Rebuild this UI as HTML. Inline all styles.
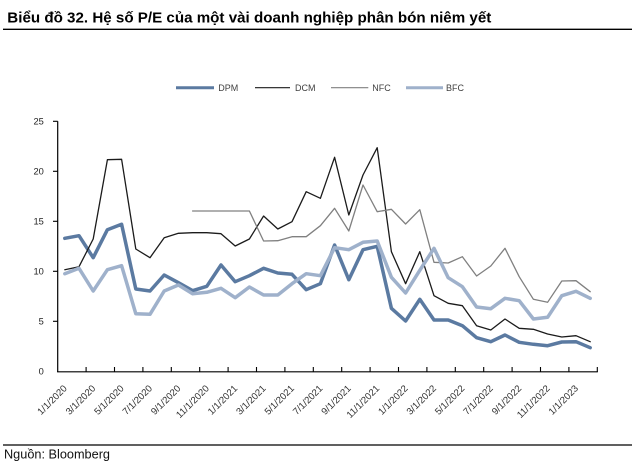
<!DOCTYPE html>
<html>
<head>
<meta charset="utf-8">
<style>
  html,body{margin:0;padding:0;background:#fff;}
  svg{display:block;}
  text{font-family:"Liberation Sans", Arial, sans-serif;}
</style>
</head>
<body>
<svg width="635" height="465" viewBox="0 0 635 465" xmlns="http://www.w3.org/2000/svg">
  <rect width="635" height="465" fill="#fff"/>

  <!-- Title -->
  <text x="7.3" y="22.3" font-size="15" font-weight="bold" fill="#000" textLength="484" lengthAdjust="spacingAndGlyphs">Biểu đồ 32. Hệ số P/E của một vài doanh nghiệp phân bón niêm yết</text>
  <line x1="3" y1="29.3" x2="632" y2="29.3" stroke="#000" stroke-width="1.3"/>

  <!-- Legend -->
  <line x1="176" y1="87.7" x2="214" y2="87.7" stroke="#5b7aa1" stroke-width="3"/>
  <text x="218.3" y="91" font-size="9" fill="#404040">DPM</text>
  <line x1="255" y1="87.7" x2="290" y2="87.7" stroke="#1b1b1b" stroke-width="1.1"/>
  <text x="295" y="91" font-size="9" fill="#404040">DCM</text>
  <line x1="331" y1="87.7" x2="368.3" y2="87.7" stroke="#808080" stroke-width="1.1"/>
  <text x="372.3" y="91" font-size="9" fill="#404040">NFC</text>
  <line x1="406" y1="87.7" x2="443" y2="87.7" stroke="#9fb1cb" stroke-width="3"/>
  <text x="446" y="91" font-size="9" fill="#404040">BFC</text>

  <!-- Y axis -->
  <line x1="57.7" y1="121.3" x2="57.7" y2="372" stroke="#000" stroke-width="1.2"/>
  <g stroke="#000" stroke-width="1.1">
    <line x1="53" y1="121.3" x2="57.7" y2="121.3"/>
    <line x1="53" y1="171.3" x2="57.7" y2="171.3"/>
    <line x1="53" y1="221.3" x2="57.7" y2="221.3"/>
    <line x1="53" y1="271.3" x2="57.7" y2="271.3"/>
    <line x1="53" y1="321.3" x2="57.7" y2="321.3"/>
  </g>
  <g font-size="9.3" fill="#222" text-anchor="end">
    <text x="43.8" y="124.6">25</text>
    <text x="43.8" y="174.6">20</text>
    <text x="43.8" y="224.6">15</text>
    <text x="43.8" y="274.6">10</text>
    <text x="43.8" y="324.6">5</text>
    <text x="43.8" y="374.6">0</text>
  </g>

  <!-- X axis -->
  <line x1="57.1" y1="371.8" x2="597.8" y2="371.8" stroke="#000" stroke-width="1.2"/>
  <g stroke="#000" stroke-width="1.1">
    <line x1="86.1" y1="367" x2="86.1" y2="372"/>
    <line x1="114.5" y1="367" x2="114.5" y2="372"/>
    <line x1="142.9" y1="367" x2="142.9" y2="372"/>
    <line x1="171.3" y1="367" x2="171.3" y2="372"/>
    <line x1="199.7" y1="367" x2="199.7" y2="372"/>
    <line x1="228.1" y1="367" x2="228.1" y2="372"/>
    <line x1="256.5" y1="367" x2="256.5" y2="372"/>
    <line x1="284.9" y1="367" x2="284.9" y2="372"/>
    <line x1="313.3" y1="367" x2="313.3" y2="372"/>
    <line x1="341.7" y1="367" x2="341.7" y2="372"/>
    <line x1="370.1" y1="367" x2="370.1" y2="372"/>
    <line x1="398.5" y1="367" x2="398.5" y2="372"/>
    <line x1="426.9" y1="367" x2="426.9" y2="372"/>
    <line x1="455.3" y1="367" x2="455.3" y2="372"/>
    <line x1="483.7" y1="367" x2="483.7" y2="372"/>
    <line x1="512.1" y1="367" x2="512.1" y2="372"/>
    <line x1="540.5" y1="367" x2="540.5" y2="372"/>
    <line x1="568.9" y1="367" x2="568.9" y2="372"/>
    <line x1="597.3" y1="367" x2="597.3" y2="372"/>
  </g>

  <g font-size="9.6" fill="#333" text-anchor="end">
    <text x="67.6" y="389" transform="rotate(-45 67.6 389)">1/1/2020</text>
    <text x="96.0" y="389" transform="rotate(-45 96.0 389)">3/1/2020</text>
    <text x="124.4" y="389" transform="rotate(-45 124.4 389)">5/1/2020</text>
    <text x="152.8" y="389" transform="rotate(-45 152.8 389)">7/1/2020</text>
    <text x="181.2" y="389" transform="rotate(-45 181.2 389)">9/1/2020</text>
    <text x="209.6" y="389" transform="rotate(-45 209.6 389)">11/1/2020</text>
    <text x="238.0" y="389" transform="rotate(-45 238.0 389)">1/1/2021</text>
    <text x="266.4" y="389" transform="rotate(-45 266.4 389)">3/1/2021</text>
    <text x="294.8" y="389" transform="rotate(-45 294.8 389)">5/1/2021</text>
    <text x="323.2" y="389" transform="rotate(-45 323.2 389)">7/1/2021</text>
    <text x="351.6" y="389" transform="rotate(-45 351.6 389)">9/1/2021</text>
    <text x="380.0" y="389" transform="rotate(-45 380.0 389)">11/1/2021</text>
    <text x="408.4" y="389" transform="rotate(-45 408.4 389)">1/1/2022</text>
    <text x="436.8" y="389" transform="rotate(-45 436.8 389)">3/1/2022</text>
    <text x="465.2" y="389" transform="rotate(-45 465.2 389)">5/1/2022</text>
    <text x="493.6" y="389" transform="rotate(-45 493.6 389)">7/1/2022</text>
    <text x="522.0" y="389" transform="rotate(-45 522.0 389)">9/1/2022</text>
    <text x="550.4" y="389" transform="rotate(-45 550.4 389)">11/1/2022</text>
    <text x="578.8" y="389" transform="rotate(-45 578.8 389)">1/1/2023</text>
  </g>

  <!-- Series -->
  <g fill="none" stroke-linejoin="round" stroke-linecap="round">
    <polyline stroke="#5b7aa1" stroke-width="3.5" points="64.8,238.3 79,235.7 93.2,257.7 107.4,229.7 121.6,224.3 135.8,289 150,291 164.2,275 178.4,282.7 192.6,290.7 206.8,286.3 221,265 235.2,281.7 249.4,275.7 263.6,268.3 277.8,273 292,274.3 306.2,289.7 320.4,283.7 334.6,245 348.8,279.7 363,249.7 377.2,246.3 391.4,308.3 405.6,321 419.8,299.3 434,320 448.2,320 462.4,325.7 476.6,337.7 490.8,341.7 505,335 519.2,342.3 533.4,344.3 547.6,345.7 561.8,342 576,341.7 590.2,347.7"/>
    <polyline stroke="#1b1b1b" stroke-width="1.3" points="64.8,269.7 79,266.7 93.2,239 107.4,159.7 121.6,159.3 135.8,249 150,257.7 164.2,237.7 178.4,233.3 192.6,232.7 206.8,232.7 221,233.7 235.2,246 249.4,239 263.6,216 277.8,229 292,221.7 306.2,191.7 320.4,198.3 334.6,157.3 348.8,215 363,175 377.2,147.7 391.4,251.7 405.6,283.7 419.8,251.7 434,295.7 448.2,303.3 462.4,305.7 476.6,325.7 490.8,330 505,319 519.2,328.3 533.4,329.3 547.6,334 561.8,337 576,335.7 590.2,341.7"/>
    <polyline stroke="#808080" stroke-width="1.3" points="192.6,211 206.8,211 221,211 235.2,211 249.4,211 263.6,241 277.8,240.7 292,236.7 306.2,236.7 320.4,225.7 334.6,208.3 348.8,231 363,185 377.2,211.7 391.4,209.3 405.6,224 419.8,209.7 434,262.3 448.2,263 462.4,256.7 476.6,276 490.8,266 505,248.3 519.2,276.7 533.4,299.3 547.6,302.3 561.8,281 576,280.7 590.2,291.7"/>
    <polyline stroke="#9fb1cb" stroke-width="3.5" points="64.8,273.7 79,268.3 93.2,291 107.4,269.7 121.6,265.7 135.8,313.7 150,314.3 164.2,291 178.4,285 192.6,293.7 206.8,292.3 221,288.3 235.2,297.7 249.4,287 263.6,295 277.8,295 292,283.7 306.2,273.7 320.4,275.7 334.6,247.7 348.8,249.7 363,242.3 377.2,241 391.4,277.3 405.6,293 419.8,270.3 434,248.3 448.2,277.7 462.4,286.7 476.6,307 490.8,308.7 505,298.3 519.2,300.7 533.4,319 547.6,317.3 561.8,295.7 576,291.3 590.2,298.3"/>
  </g>

  <!-- Footer -->
  <line x1="3" y1="445" x2="632" y2="445" stroke="#000" stroke-width="1.3"/>
  <text x="4" y="458.3" font-size="12.5" fill="#111" textLength="106" lengthAdjust="spacingAndGlyphs">Nguồn: Bloomberg</text>
</svg>
</body>
</html>
